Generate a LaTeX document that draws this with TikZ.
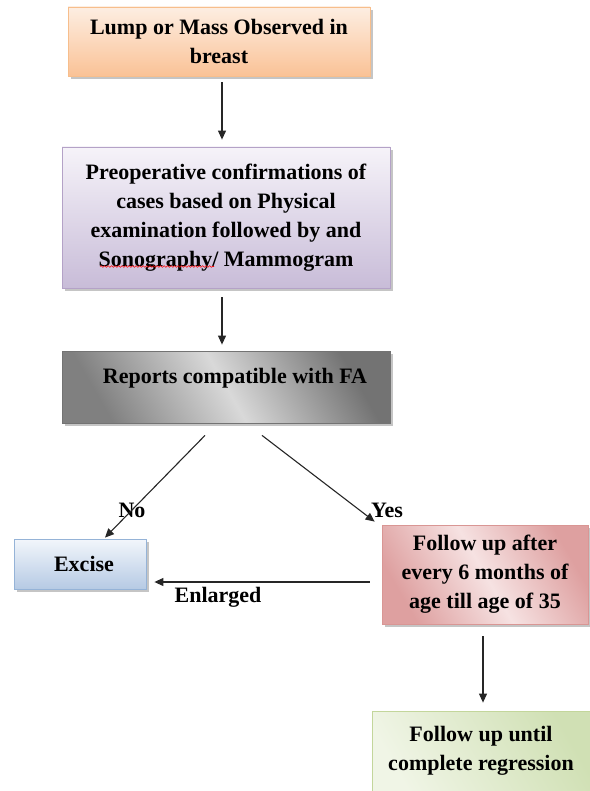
\documentclass[tikz,border=0pt]{standalone}
\usepackage{fontspec}
\setmainfont{Liberation Serif}
\usepackage{xcolor}
\usetikzlibrary{arrows.meta,shadows,decorations.pathmorphing}
\definecolor{lumpTop}{RGB}{253,238,226}
\definecolor{lumpBot}{RGB}{250,194,150}
\definecolor{lumpLine}{RGB}{247,190,140}
\definecolor{preTop}{RGB}{246,243,249}
\definecolor{preBot}{RGB}{200,188,216}
\definecolor{preLine}{RGB}{180,162,199}
\definecolor{excTop}{RGB}{242,246,251}
\definecolor{excBot}{RGB}{182,202,228}
\definecolor{excLine}{RGB}{149,179,215}
\definecolor{fuDark}{RGB}{222,160,160}
\definecolor{fuLight}{RGB}{246,226,226}
\definecolor{fuLine}{RGB}{217,150,148}
\definecolor{regDark}{RGB}{208,224,180}
\definecolor{regLight}{RGB}{240,245,230}
\definecolor{regLine}{RGB}{195,214,155}

\begin{document}
\begin{tikzpicture}[x=1pt,y=-1pt,
box/.style={draw,line width=0.8pt,align=center,inner sep=0pt,text=black,font=\bfseries\fontsize{22}{29}\selectfont,drop shadow={shadow xshift=2.5pt,shadow yshift=-3pt,fill=black!45}},
arr/.style={-{Triangle[length=9pt,width=8pt]},line width=1.1pt,black!85},
lbl/.style={inner sep=0pt,font=\bfseries\fontsize{22}{25}\selectfont}
]
\useasboundingbox (0,0) rectangle (589,791);

\node[box,draw=lumpLine,top color=lumpTop,bottom color=lumpBot,minimum width=302pt,minimum height=69pt] (lump) at (219,41.5) {Lump or Mass Observed in\\breast};
\node[box,draw=preLine,top color=preTop,bottom color=preBot,minimum width=328pt,minimum height=141pt] (preop) at (226,217.5) {Preoperative confirmations of\\cases based on Physical\\examination followed by and\\Sonography/ Mammogram};
\node[box,draw=black!55,align=left,minimum width=328pt,text height=32pt,text depth=40pt,left color=black!50,right color=black!55,middle color=black!15,shading angle=120] (rep) at (226,387) {\hspace*{18pt}Reports compatible with FA};
\node[box,draw=excLine,top color=excTop,bottom color=excBot,minimum width=132pt,minimum height=50pt] (exc) at (80,564) {\hspace*{8pt}Excise};
\node[box,draw=fuLine,left color=fuDark,right color=fuDark,middle color=fuLight,shading angle=120,minimum width=206pt,minimum height=99pt] (fu) at (485,574.5) {Follow up after\\every 6 months of\\age till age of 35};
\node[box,draw=regLine,left color=regLight,right color=regDark,shading angle=120,minimum width=218pt,minimum height=80pt] (reg) at (481,751) {Follow up until\\complete regression};

\node[lbl] (no) at (132,510) {No};
\node[lbl] (yes) at (387,510) {Yes};
\node[lbl] (enl) at (218,597) {Enlarged};

% spell-check wave under Sonography
\draw[red,line width=0.6pt,decorate,decoration={snake,amplitude=0.8pt,segment length=3.5pt}] ([xshift=-126pt,yshift=-49pt]preop.center) -- ++(114,0);

\draw[arr] ([xshift=3pt,yshift=-6pt]lump.south) -- ([xshift=-4pt,yshift=7pt]preop.north);
\draw[arr] ([xshift=-4pt,yshift=-9pt]preop.south) -- ([xshift=-4pt,yshift=6pt]rep.north);
\draw[arr] ([xshift=-21pt,yshift=-12pt]rep.south) -- ([xshift=25pt,yshift=1pt]exc.north);
\draw[arr] ([xshift=36pt,yshift=-12pt]rep.south) -- ([xshift=-7pt,yshift=3pt]fu.north west);
\draw[arr] ([xshift=-12pt,yshift=-7.5pt]fu.west) -- ([xshift=8pt,yshift=-18pt]exc.east);
\draw[arr] ([xshift=-2pt,yshift=-12pt]fu.south) -- ([xshift=2pt,yshift=8pt]reg.north);
\end{tikzpicture}
\end{document}
